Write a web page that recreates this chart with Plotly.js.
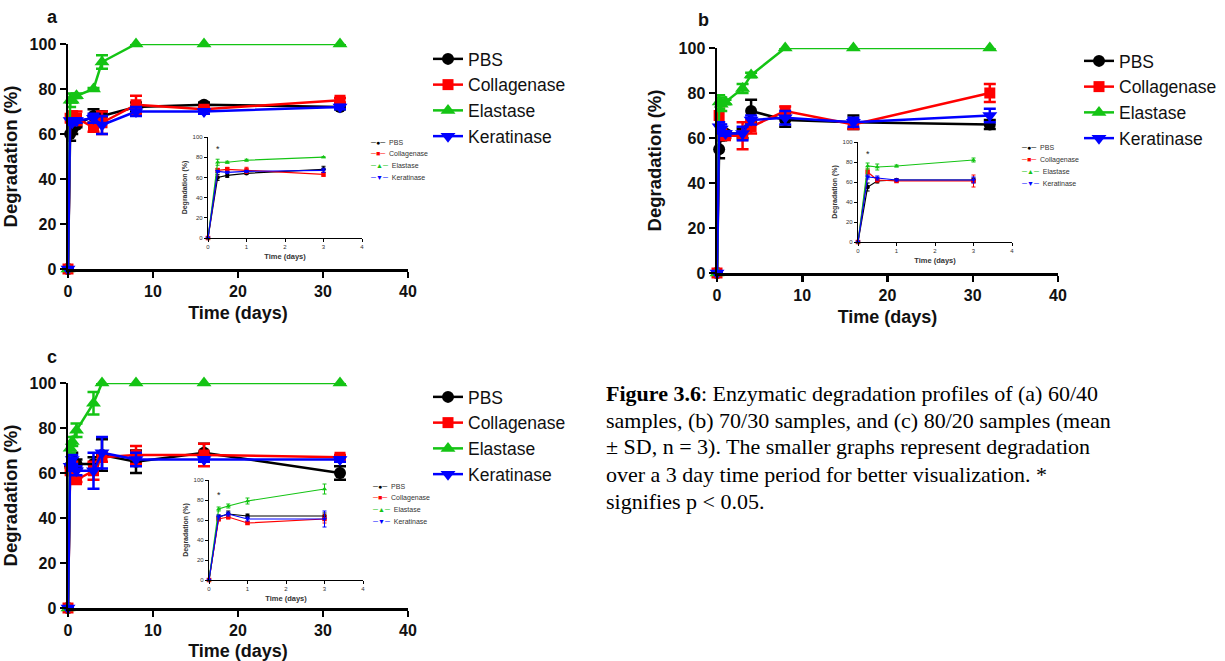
<!DOCTYPE html>
<html>
<head>
<meta charset="utf-8">
<script src="https://cdn.plot.ly/plotly-3.0.1.min.js"></script>
<style>html,body{margin:0;padding:0;background:#fff;}#chart{width:1225px;height:661px;}</style>
</head>
<body>
<div id="chart"></div>
<script>
// ---- data ----
const seriesNames = ['PBS', 'Collagenase', 'Elastase', 'Keratinase'];
const timeMain = [0, 0.25, 0.5, 1, 3, 4, 8, 16, 32];
const insetCount = 5; // inset shows time points 0..3 days

// Panel a (60/40)
const aPBS = [0, 60, 62, 64, 68, 68, 72, 73, 72];
const aPBSerr = [0, 3, 2, 1, 3, 2, 2, 1, 1];
const aCol = [0, 67, 68, 67, 63, 65, 73, 71, 75];
const aColerr = [0, 2, 2, 3, 2, 5, 4, 1, 1];
const aEla = [0, 75, 75, 77, 80, 92, 100, 100, 100];
const aElaerr = [0, 3, 1, 1, 0.5, 3, 0, 0, 0];
const aKer = [0, 66, 65, 66, 67, 64, 70, 70, 72];
const aKererr = [0, 1, 1, 1, 2, 4, 2, 1, 1];

// Panel b (70/30)
const bPBS = [0, 55, 61, 62, 62, 72, 68, 67, 66];
const bPBSerr = [0, 4, 2, 1, 2, 5, 3, 3, 2];
const bCol = [0, 70, 62, 61, 61, 65, 72, 66, 80];
const bColerr = [0, 3, 2, 1, 6, 3, 2, 2, 4];
const bEla = [0, 76, 75, 76, 82, 88, 100, 100, 100];
const bElaerr = [0, 3, 3, 1, 2, 1, 0, 0, 0];
const bKer = [0, 65, 64, 62, 62, 68, 69, 67, 70];
const bKererr = [0, 2, 2, 1, 3, 2, 3, 2, 3];

// Panel c (80/20)
const cPBS = [0, 63, 66, 64, 64, 68, 65, 69, 60];
const cPBSerr = [0, 2, 3, 2, 3, 7, 5, 4, 3];
const cCol = [0, 61, 63, 57, 61, 67, 68, 68, 67];
const cColerr = [0, 2, 2, 1, 4, 2, 4, 5, 1];
const cEla = [0, 71, 74, 79, 91, 100, 100, 100, 100];
const cElaerr = [0, 2, 2, 3, 5, 0, 0, 0, 0];
const cKer = [0, 63, 66, 61, 61, 69, 66, 66, 66];
const cKererr = [0, 2, 2, 2, 8, 7, 3, 1, 1];

const xTicksMain = [0, 10, 20, 30, 40];
const yTicks = [0, 20, 40, 60, 80, 100];
const xTicksInset = [0, 1, 2, 3, 4];
const panelLetters = ['a', 'b', 'c'];
const captionLines = [
  '<b>Figure 3.6</b>: Enzymatic degradation profiles of (a) 60/40',
  'samples, (b) 70/30 samples, and (c) 80/20 samples (mean',
  '± SD, n = 3). The smaller graphs represent degradation',
  'over a 3 day time period for better visualization. *',
  'signifies p &lt; 0.05.'
];

// ---- styling ----
const W = 1225, H = 661;
const FONT = 'Arial, "Liberation Sans", sans-serif';
const colors = ['#000000', '#ff0000', '#14c414', '#0000ff'];
const symbols = ['circle', 'square', 'triangle-up', 'triangle-down'];
const legendGlyph = ['●', '■', '▲', '▼'];
const mainSizes = [12, 11, 13, 13];

const panels = [
  {vals: [aPBS, aCol, aEla, aKer], errs: [aPBSerr, aColerr, aElaerr, aKererr]},
  {vals: [bPBS, bCol, bEla, bKer], errs: [bPBSerr, bColerr, bElaerr, bKererr]},
  {vals: [cPBS, cCol, cEla, cKer], errs: [cPBSerr, cColerr, cElaerr, cKererr]}
];

// pixel boxes [x0, x1, ytop, ybottom]
const mainBoxes = [[68, 408, 44, 269], [717, 1058, 48, 273], [68, 408, 383, 608]];
const insetBoxes = [[208, 362, 137, 238], [858, 1012, 142, 242], [209, 363, 480, 580]];
const legendPos = [[428, 41], [1079, 43], [428, 379]];
const insetLegendPos = [[368, 142], [1019, 148], [370, 486]];
const letterPos = [[52, 17], [703, 20], [52, 357]];
const starY = [88, 88, 85];
const captionPos = [604, 393, 27];

const dx = b => [b[0] / W, b[1] / W];
const dy = b => [1 - b[3] / H, 1 - b[2] / H];

const traces = [];
const layout = {
  width: W, height: H,
  margin: {l: 0, r: 0, t: 0, b: 0},
  paper_bgcolor: '#ffffff',
  plot_bgcolor: 'rgba(0,0,0,0)',
  showlegend: true,
  font: {family: FONT, color: '#000'},
  annotations: []
};

function mainAxes(i) {
  const n = i + 1;
  const xa = {
    domain: dx(mainBoxes[i]), anchor: 'y' + (n === 1 ? '' : n),
    range: [0, 40], tickvals: xTicksMain, ticktext: xTicksMain.map(String),
    showline: true, linewidth: 2.5, linecolor: '#000', ticks: 'outside', ticklen: 6, tickwidth: 2.5, tickcolor: '#000',
    showgrid: false, zeroline: false,
    tickfont: {size: 16, family: FONT, weight: 'bold', color: '#111'},
    title: {text: 'Time (days)', font: {size: 18, family: FONT, weight: 'bold', color: '#111'}, standoff: 8}
  };
  const ya = {
    domain: dy(mainBoxes[i]), anchor: 'x' + (n === 1 ? '' : n),
    range: [0, 100], tickvals: yTicks, ticktext: yTicks.map(String),
    showline: true, linewidth: 2.5, linecolor: '#000', ticks: 'outside', ticklen: 6, tickwidth: 2.5, tickcolor: '#000',
    showgrid: false, zeroline: false,
    tickfont: {size: 16, family: FONT, weight: 'bold', color: '#111'},
    title: {text: 'Degradation (%)', font: {size: 18.5, family: FONT, weight: 'bold', color: '#111'}, standoff: 12}
  };
  layout['xaxis' + (n === 1 ? '' : n)] = xa;
  layout['yaxis' + (n === 1 ? '' : n)] = ya;
}

function insetAxes(i) {
  const n = i + 4;
  layout['xaxis' + n] = {
    domain: dx(insetBoxes[i]), anchor: 'y' + n,
    range: [0, 4], tickvals: xTicksInset, ticktext: xTicksInset.map(String),
    showline: true, linewidth: 1.2, linecolor: '#000', ticks: 'outside', ticklen: 3, tickwidth: 1, tickcolor: '#000',
    showgrid: false, zeroline: false,
    tickfont: {size: 6, family: FONT, color: '#333'},
    title: {text: 'Time (days)', font: {size: 7.5, family: FONT, weight: 'bold', color: '#333'}, standoff: 4}
  };
  layout['yaxis' + n] = {
    domain: dy(insetBoxes[i]), anchor: 'x' + n,
    range: [0, 100], tickvals: yTicks, ticktext: yTicks.map(String),
    showline: true, linewidth: 1.2, linecolor: '#000', ticks: 'outside', ticklen: 3, tickwidth: 1, tickcolor: '#000',
    showgrid: false, zeroline: false,
    tickfont: {size: 6, family: FONT, color: '#333'},
    title: {text: 'Degradation (%)', font: {size: 7, family: FONT, weight: 'bold', color: '#333'}, standoff: 4}
  };
}

panels.forEach((p, i) => {
  const n = i + 1;
  const xid = 'x' + (n === 1 ? '' : n), yid = 'y' + (n === 1 ? '' : n);
  const legId = 'legend' + (n === 1 ? '' : n);
  mainAxes(i);
  insetAxes(i);
  seriesNames.forEach((name, s) => {
    traces.push({
      type: 'scatter', mode: 'lines+markers', name: name,
      x: timeMain, y: p.vals[s], xaxis: xid, yaxis: yid, legend: legId,
      cliponaxis: false,
      line: {color: colors[s], width: 2.5},
      marker: {symbol: symbols[s], size: mainSizes[s], color: colors[s]},
      error_y: {type: 'data', array: p.errs[s], visible: true, color: colors[s], thickness: 2.5, width: 6}
    });
  });
  // inset traces: first time points of the same series
  seriesNames.forEach((name, s) => {
    traces.push({
      type: 'scatter', mode: 'lines+markers', name: name, showlegend: false,
      x: timeMain.slice(0, insetCount), y: p.vals[s].slice(0, insetCount),
      xaxis: 'x' + (i + 4), yaxis: 'y' + (i + 4), cliponaxis: false,
      line: {color: colors[s], width: 1.2},
      marker: {symbol: symbols[s], size: 4.5, color: colors[s]},
      error_y: {type: 'data', array: p.errs[s].slice(0, insetCount), visible: true, color: colors[s], thickness: 1, width: 2}
    });
  });
  // main legend
  layout[legId] = {
    x: legendPos[i][0] / W, y: 1 - legendPos[i][1] / H, xanchor: 'left', yanchor: 'top',
    bgcolor: 'rgba(0,0,0,0)', borderwidth: 0, itemwidth: 30, tracegroupgap: 0,
    font: {size: 17.5, family: FONT, color: '#111'}, itemsizing: 'trace'
  };
  // inset legend (small text annotations)
  seriesNames.forEach((name, s) => {
    layout.annotations.push({
      xref: 'paper', yref: 'paper', xanchor: 'left', yanchor: 'middle', showarrow: false,
      x: insetLegendPos[i][0] / W, y: 1 - (insetLegendPos[i][1] + s * 11.8) / H,
      text: '<span style="color:' + colors[s] + '">─' + legendGlyph[s] + '─</span>  ' + name,
      font: {size: 7, family: FONT, color: '#333'}
    });
  });
  // significance star
  layout.annotations.push({
    xref: 'x' + (i + 4), yref: 'y' + (i + 4), x: timeMain[1], y: starY[i], showarrow: false,
    text: '*', font: {size: 9, family: FONT, color: '#222'}
  });
  // panel letter
  layout.annotations.push({
    xref: 'paper', yref: 'paper', x: letterPos[i][0] / W, y: 1 - letterPos[i][1] / H,
    xanchor: 'center', yanchor: 'middle', showarrow: false,
    text: '<b>' + panelLetters[i] + '</b>', font: {size: 18, family: FONT, color: '#111'}
  });
});

// caption, one annotation per line
captionLines.forEach((line, k) => {
  layout.annotations.push({
    xref: 'paper', yref: 'paper', x: captionPos[0] / W, y: 1 - (captionPos[1] + k * captionPos[2]) / H,
    xanchor: 'left', yanchor: 'middle', align: 'left', showarrow: false, text: line,
    font: {size: 22, family: '"Liberation Serif", "Times New Roman", serif', color: '#000'}
  });
});

Plotly.newPlot('chart', traces, layout, {displayModeBar: false, staticPlot: true});
</script>
</body>
</html>
